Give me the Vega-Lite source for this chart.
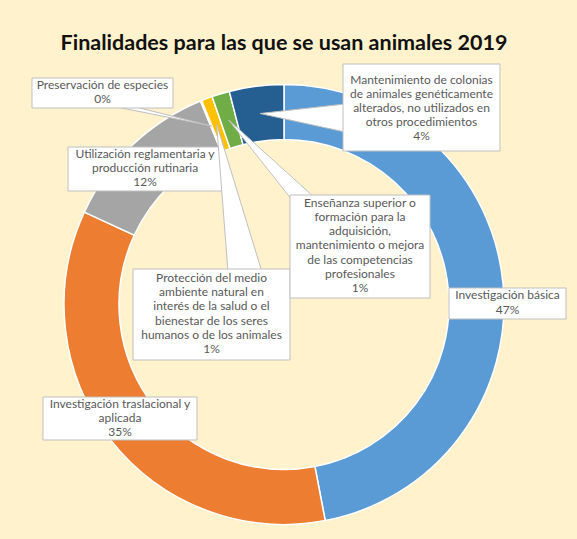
{
  "$schema": "https://vega.github.io/schema/vega-lite/v6.json",
  "autosize": "none",
  "width": 568,
  "height": 469,
  "padding": {"top": 70, "left": 0, "right": 9, "bottom": 0},
  "background": "#FFF2CC",
  "config": {"view": {"stroke": null}},
  "title": {"text": "Finalidades para las que se usan animales 2019", "font": "Lato", "fontSize": 21.5, "fontWeight": "bold", "color": "#111111", "anchor": "middle", "offset": 9},
  "data": {"values": [
    {"orden": 1, "finalidad": "Investigación básica", "pct": 47.0, "etiqueta": ["Investigación básica", "47%"]},
    {"orden": 2, "finalidad": "Investigación traslacional y aplicada", "pct": 34.9, "etiqueta": ["Investigación traslacional y", "aplicada", "35%"]},
    {"orden": 3, "finalidad": "Utilización reglamentaria y producción rutinaria", "pct": 11.9, "etiqueta": ["Utilización reglamentaria y", "producción rutinaria", "12%"]},
    {"orden": 4, "finalidad": "Preservación de especies", "pct": 0.1, "etiqueta": ["Preservación de especies", "0%"]},
    {"orden": 5, "finalidad": "Protección del medio ambiente natural en interés de la salud o el bienestar de los seres humanos o de los animales", "pct": 0.8, "etiqueta": ["Protección del medio", "ambiente natural en", "interés de la salud o el", "bienestar de los seres", "humanos o de los animales", "1%"]},
    {"orden": 6, "finalidad": "Enseñanza superior o formación para la adquisición, mantenimiento o mejora de las competencias profesionales", "pct": 1.3, "etiqueta": ["Enseñanza superior o", "formación para la", "adquisición,", "mantenimiento o mejora", "de las competencias", "profesionales", "1%"]},
    {"orden": 7, "finalidad": "Mantenimiento de colonias de animales genéticamente alterados, no utilizados en otros procedimientos", "pct": 4.0, "etiqueta": ["Mantenimiento  de colonias", "de animales genéticamente", "alterados, no utilizados en", "otros procedimientos", "4%"]}
  ]},
  "layer": [
    {
      "mark": {"type": "arc", "innerRadius": 165, "outerRadius": 220, "stroke": "white", "strokeWidth": 1.5},
      "encoding": {
        "theta": {"field": "pct", "type": "quantitative", "stack": true},
        "order": {"field": "orden", "type": "quantitative"},
        "color": {"field": "finalidad", "type": "nominal", "legend": null, "scale": {
          "domain": ["Investigación básica", "Investigación traslacional y aplicada", "Utilización reglamentaria y producción rutinaria", "Preservación de especies", "Protección del medio ambiente natural en interés de la salud o el bienestar de los seres humanos o de los animales", "Enseñanza superior o formación para la adquisición, mantenimiento o mejora de las competencias profesionales", "Mantenimiento de colonias de animales genéticamente alterados, no utilizados en otros procedimientos"],
          "range": ["#5B9BD5", "#ED7D31", "#A5A5A5", "#4472C4", "#FFC000", "#70AD47", "#255E91"]}}
      }
    },
    {
      "transform": [{"filter": "datum.orden == 1"}],
      "layer": [
        {"mark": {"type": "rect", "fill": "white", "stroke": "#BFBFBF", "strokeWidth": 1, "opacity": 1},
         "encoding": {
           "x": {"datum": 165, "type": "quantitative", "scale": {"domain": [-284, 284], "nice": false, "zero": false}, "axis": null},
           "x2": {"datum": 282},
           "y": {"datum": 16.5, "type": "quantitative", "scale": {"domain": [-234.5, 234.5], "nice": false, "zero": false}, "axis": null},
           "y2": {"datum": -14.5}}},
        {"mark": {"type": "text", "font": "Lato", "fontSize": 12, "lineHeight": 14.2, "color": "#595959", "align": "center", "baseline": "top"},
         "encoding": {
           "x": {"datum": 223.5, "type": "quantitative", "scale": {"domain": [-284, 284], "nice": false, "zero": false}, "axis": null},
           "y": {"datum": 14.1, "type": "quantitative", "scale": {"domain": [-234.5, 234.5], "nice": false, "zero": false}, "axis": null},
           "text": {"field": "etiqueta"}}}
      ]
    },
    {
      "transform": [{"filter": "datum.orden == 2"}],
      "layer": [
        {"mark": {"type": "rect", "fill": "white", "stroke": "#BFBFBF", "strokeWidth": 1, "opacity": 1},
         "encoding": {
           "x": {"datum": -241, "type": "quantitative", "scale": {"domain": [-284, 284], "nice": false, "zero": false}, "axis": null},
           "x2": {"datum": -87},
           "y": {"datum": -92.5, "type": "quantitative", "scale": {"domain": [-234.5, 234.5], "nice": false, "zero": false}, "axis": null},
           "y2": {"datum": -135.5}}},
        {"mark": {"type": "text", "font": "Lato", "fontSize": 12, "lineHeight": 14.2, "color": "#595959", "align": "center", "baseline": "top"},
         "encoding": {
           "x": {"datum": -164, "type": "quantitative", "scale": {"domain": [-284, 284], "nice": false, "zero": false}, "axis": null},
           "y": {"datum": -94, "type": "quantitative", "scale": {"domain": [-234.5, 234.5], "nice": false, "zero": false}, "axis": null},
           "text": {"field": "etiqueta"}}}
      ]
    },
    {
      "transform": [{"filter": "datum.orden == 3"}],
      "layer": [
        {"mark": {"type": "rect", "fill": "white", "stroke": "#BFBFBF", "strokeWidth": 1, "opacity": 1},
         "encoding": {
           "x": {"datum": -216, "type": "quantitative", "scale": {"domain": [-284, 284], "nice": false, "zero": false}, "axis": null},
           "x2": {"datum": -62},
           "y": {"datum": 157.5, "type": "quantitative", "scale": {"domain": [-234.5, 234.5], "nice": false, "zero": false}, "axis": null},
           "y2": {"datum": 113.5}}},
        {"mark": {"type": "text", "font": "Lato", "fontSize": 12, "lineHeight": 14.2, "color": "#595959", "align": "center", "baseline": "top"},
         "encoding": {
           "x": {"datum": -139, "type": "quantitative", "scale": {"domain": [-284, 284], "nice": false, "zero": false}, "axis": null},
           "y": {"datum": 155.7, "type": "quantitative", "scale": {"domain": [-234.5, 234.5], "nice": false, "zero": false}, "axis": null},
           "text": {"field": "etiqueta"}}}
      ]
    },
    {
      "transform": [{"filter": "datum.orden == 4"}],
      "layer": [
        {"mark": {"type": "point", "shape": "M0,0L-99.6,-20L-79.6,-20Z", "size": 4, "filled": true, "fill": "white", "stroke": "#BFBFBF", "strokeWidth": 1, "opacity": 1},
         "encoding": {
           "x": {"datum": -72.4, "type": "quantitative", "scale": {"domain": [-284, 284], "nice": false, "zero": false}, "axis": null},
           "y": {"datum": 178.5, "type": "quantitative", "scale": {"domain": [-234.5, 234.5], "nice": false, "zero": false}, "axis": null}}},
        {"mark": {"type": "rect", "fill": "white", "stroke": "#BFBFBF", "strokeWidth": 1, "opacity": 1},
         "encoding": {
           "x": {"datum": -252, "type": "quantitative", "scale": {"domain": [-284, 284], "nice": false, "zero": false}, "axis": null},
           "x2": {"datum": -111},
           "y": {"datum": 226.5, "type": "quantitative", "scale": {"domain": [-234.5, 234.5], "nice": false, "zero": false}, "axis": null},
           "y2": {"datum": 196.5}}},
        {"mark": {"type": "text", "font": "Lato", "fontSize": 12, "lineHeight": 14.2, "color": "#595959", "align": "center", "baseline": "top"},
         "encoding": {
           "x": {"datum": -181.5, "type": "quantitative", "scale": {"domain": [-284, 284], "nice": false, "zero": false}, "axis": null},
           "y": {"datum": 224.6, "type": "quantitative", "scale": {"domain": [-234.5, 234.5], "nice": false, "zero": false}, "axis": null},
           "text": {"field": "etiqueta"}}}
      ]
    },
    {
      "transform": [{"filter": "datum.orden == 5"}],
      "layer": [
        {"mark": {"type": "point", "shape": "M0,0L11.4,148L45.4,148Z", "size": 4, "filled": true, "fill": "white", "stroke": "#BFBFBF", "strokeWidth": 1, "opacity": 1},
         "encoding": {
           "x": {"datum": -67.4, "type": "quantitative", "scale": {"domain": [-284, 284], "nice": false, "zero": false}, "axis": null},
           "y": {"datum": 180.5, "type": "quantitative", "scale": {"domain": [-234.5, 234.5], "nice": false, "zero": false}, "axis": null}}},
        {"mark": {"type": "rect", "fill": "white", "stroke": "#BFBFBF", "strokeWidth": 1, "opacity": 1},
         "encoding": {
           "x": {"datum": -151, "type": "quantitative", "scale": {"domain": [-284, 284], "nice": false, "zero": false}, "axis": null},
           "x2": {"datum": 6},
           "y": {"datum": 35.5, "type": "quantitative", "scale": {"domain": [-234.5, 234.5], "nice": false, "zero": false}, "axis": null},
           "y2": {"datum": -55.5}}},
        {"mark": {"type": "text", "font": "Lato", "fontSize": 12, "lineHeight": 14.2, "color": "#595959", "align": "center", "baseline": "top"},
         "encoding": {
           "x": {"datum": -72.5, "type": "quantitative", "scale": {"domain": [-284, 284], "nice": false, "zero": false}, "axis": null},
           "y": {"datum": 31.5, "type": "quantitative", "scale": {"domain": [-234.5, 234.5], "nice": false, "zero": false}, "axis": null},
           "text": {"field": "etiqueta"}}}
      ]
    },
    {
      "transform": [{"filter": "datum.orden == 6"}],
      "layer": [
        {"mark": {"type": "point", "shape": "M0,0L67.3,85L85.3,77Z", "size": 4, "filled": true, "fill": "white", "stroke": "#BFBFBF", "strokeWidth": 1, "opacity": 1},
         "encoding": {
           "x": {"datum": -55.3, "type": "quantitative", "scale": {"domain": [-284, 284], "nice": false, "zero": false}, "axis": null},
           "y": {"datum": 184.5, "type": "quantitative", "scale": {"domain": [-234.5, 234.5], "nice": false, "zero": false}, "axis": null}}},
        {"mark": {"type": "rect", "fill": "white", "stroke": "#BFBFBF", "strokeWidth": 1, "opacity": 1},
         "encoding": {
           "x": {"datum": 6, "type": "quantitative", "scale": {"domain": [-284, 284], "nice": false, "zero": false}, "axis": null},
           "x2": {"datum": 146},
           "y": {"datum": 109.5, "type": "quantitative", "scale": {"domain": [-234.5, 234.5], "nice": false, "zero": false}, "axis": null},
           "y2": {"datum": 6.5}}},
        {"mark": {"type": "text", "font": "Lato", "fontSize": 12, "lineHeight": 14.2, "color": "#595959", "align": "center", "baseline": "top"},
         "encoding": {
           "x": {"datum": 76, "type": "quantitative", "scale": {"domain": [-284, 284], "nice": false, "zero": false}, "axis": null},
           "y": {"datum": 106.6, "type": "quantitative", "scale": {"domain": [-234.5, 234.5], "nice": false, "zero": false}, "axis": null},
           "text": {"field": "etiqueta"}}}
      ]
    },
    {
      "transform": [{"filter": "datum.orden == 7"}],
      "layer": [
        {"mark": {"type": "point", "shape": "M0,0L85,-9.5L85,18.5Z", "size": 4, "filled": true, "fill": "white", "stroke": "#BFBFBF", "strokeWidth": 1, "opacity": 1},
         "encoding": {
           "x": {"datum": -24, "type": "quantitative", "scale": {"domain": [-284, 284], "nice": false, "zero": false}, "axis": null},
           "y": {"datum": 191, "type": "quantitative", "scale": {"domain": [-234.5, 234.5], "nice": false, "zero": false}, "axis": null}}},
        {"mark": {"type": "rect", "fill": "white", "stroke": "#BFBFBF", "strokeWidth": 1, "opacity": 1},
         "encoding": {
           "x": {"datum": 59, "type": "quantitative", "scale": {"domain": [-284, 284], "nice": false, "zero": false}, "axis": null},
           "x2": {"datum": 216},
           "y": {"datum": 240.5, "type": "quantitative", "scale": {"domain": [-234.5, 234.5], "nice": false, "zero": false}, "axis": null},
           "y2": {"datum": 153.5}}},
        {"mark": {"type": "text", "font": "Lato", "fontSize": 12, "lineHeight": 14.2, "color": "#595959", "align": "center", "baseline": "top"},
         "encoding": {
           "x": {"datum": 137.5, "type": "quantitative", "scale": {"domain": [-284, 284], "nice": false, "zero": false}, "axis": null},
           "y": {"datum": 230, "type": "quantitative", "scale": {"domain": [-234.5, 234.5], "nice": false, "zero": false}, "axis": null},
           "text": {"field": "etiqueta"}}}
      ]
    }
  ]
}
